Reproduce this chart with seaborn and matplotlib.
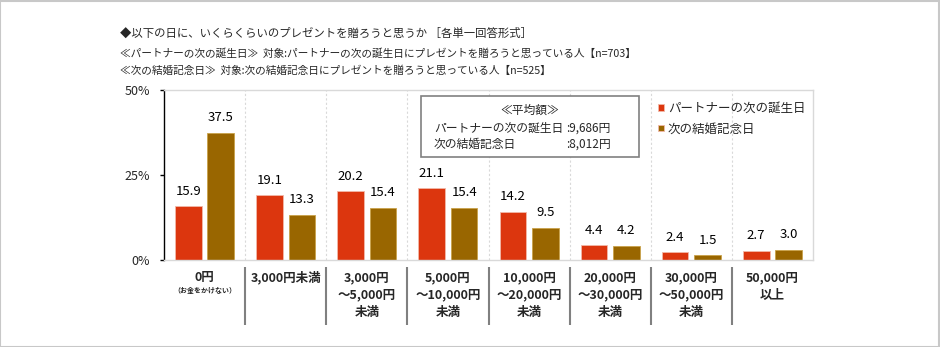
import matplotlib
matplotlib.use("Agg")
import matplotlib.pyplot as plt
import seaborn as sns
import pandas as pd
from matplotlib.patches import Rectangle

# ---- data ----
categories = ["0円", "3,000円未満", "3,000円\n～5,000円\n未満", "5,000円\n～10,000円\n未満",
              "10,000円\n～20,000円\n未満", "20,000円\n～30,000円\n未満",
              "30,000円\n～50,000円\n未満", "50,000円\n以上"]
series_names = ["パートナーの次の誕生日", "次の結婚記念日"]
birthday = [15.9, 19.1, 20.2, 21.1, 14.2, 4.4, 2.4, 2.7]
anniversary = [37.5, 13.3, 15.4, 15.4, 9.5, 4.2, 1.5, 3.0]
y_ticks = [0, 25, 50]
y_ticklabels = ["0%", "25%", "50%"]

title = "◆以下の日に、いくらくらいのプレゼントを贈ろうと思うか ［各単一回答形式］"
line2 = "≪パートナーの次の誕生日≫  対象:パートナーの次の誕生日にプレゼントを贈ろうと思っている人【n=703】"
line3 = "≪次の結婚記念日≫  対象:次の結婚記念日にプレゼントを贈ろうと思っている人【n=525】"
avg_title = "≪平均額≫"
avg_labels = ["パートナーの次の誕生日", "次の結婚記念日"]
avg_values = [":9,686円", ":8,012円"]
note0 = "（お金をかけない）"

colors = ["#DC360E", "#996600"]

df = pd.DataFrame({
    "cat": categories * 2,
    "series": [series_names[0]] * len(categories) + [series_names[1]] * len(categories),
    "value": birthday + anniversary,
})

sns.set_theme(style="white")
plt.rcParams["font.family"] = ["Noto Sans CJK JP", "DejaVu Sans"]

W, H = 940, 347
fig = plt.figure(figsize=(W / 100, H / 100), dpi=100)

def fx(x):
    return x / W

def fy(y):
    return 1 - y / H

ax = fig.add_axes([fx(164), fy(260), fx(813) - fx(164), fy(90) - fy(260)])

sns.barplot(data=df, x="cat", y="value", hue="series", hue_order=series_names,
            order=categories, palette=colors, width=0.8, gap=0.18, ax=ax,
            edgecolor="#F2B8A8", linewidth=0.6, saturation=1, legend=True)

# bar edges: brown bars get lighter brown edge
for patch in ax.containers[1]:
    patch.set_edgecolor("#C9A24A")

for cont in ax.containers:
    ax.bar_label(cont, fmt="%.1f", padding=6, fontsize=9.5, color="#000000")

ax.set_xlim(-0.5, len(categories) - 0.5)
ax.set_ylim(0, 50)
ax.set_yticks(y_ticks)
ax.set_yticklabels(y_ticklabels, fontsize=9)
ax.set_xlabel("")
ax.set_ylabel("")
ax.tick_params(axis="y", length=3, width=1, color="black", pad=7, left=True)
ax.tick_params(axis="x", length=0, pad=8)
ax.set_xticks(range(len(categories)))
ax.set_xticklabels(categories, fontsize=9, fontweight="bold", linespacing=1.45)

for s in ["top", "right", "bottom"]:
    ax.spines[s].set_color("#D9D9D9")
    ax.spines[s].set_linewidth(1)
ax.spines["left"].set_color("black")
ax.spines["left"].set_linewidth(1)

# vertical dotted gridlines between categories
for b in range(len(categories) - 1):
    ax.axvline(b + 0.5, color="#D9D9D9", lw=0.8, ls=(0, (2, 2)), zorder=0)

# separators below the axis
trans = ax.get_xaxis_transform()
ax.vlines([b + 0.5 for b in range(len(categories) - 1)], -7 / 170, -65 / 170,
          transform=trans, clip_on=False, color="#808080", lw=1.5)

ax.text(0, -31 / 170, note0, transform=trans, ha="center", va="center",
        fontsize=5, fontweight="bold")

# legend
handles, labels = ax.get_legend_handles_labels()
ax.legend(handles, labels, loc="upper left", bbox_to_anchor=(fx(658), fy(102)),
          bbox_transform=fig.transFigure, frameon=False, fontsize=9,
          handlelength=0.45, handleheight=0.45, handletextpad=0.35, labelspacing=0.6,
          borderaxespad=0, borderpad=0)

# average box
fig.patches.append(Rectangle((fx(421), fy(157)), fx(639) - fx(421), fy(96) - fy(157),
                             transform=fig.transFigure, facecolor="white",
                             edgecolor="#808080", lw=1.2, zorder=5))
fig.text(fx(530), fy(110), avg_title, ha="center", va="center", fontsize=8.5, zorder=6)
for i, (lab, val) in enumerate(zip(avg_labels, avg_values)):
    yy = 128 + i * 16
    fig.text(fx(434), fy(yy), lab, ha="left", va="center", fontsize=8.5, zorder=6)
    fig.text(fx(566), fy(yy), val, ha="left", va="center", fontsize=8.5, zorder=6)

# titles
fig.text(fx(120), fy(33), title, ha="left", va="center", fontsize=8.2)
fig.text(fx(120), fy(54), line2, ha="left", va="center", fontsize=7.7)
fig.text(fx(120), fy(71), line3, ha="left", va="center", fontsize=7.7)

# outer frame
fig.patches.append(Rectangle((0.0005, 0.001), 0.998, 0.997, transform=fig.transFigure,
                             fill=False, edgecolor="#C8C8C8", lw=1.5))

fig.savefig("out.png", dpi=100)
